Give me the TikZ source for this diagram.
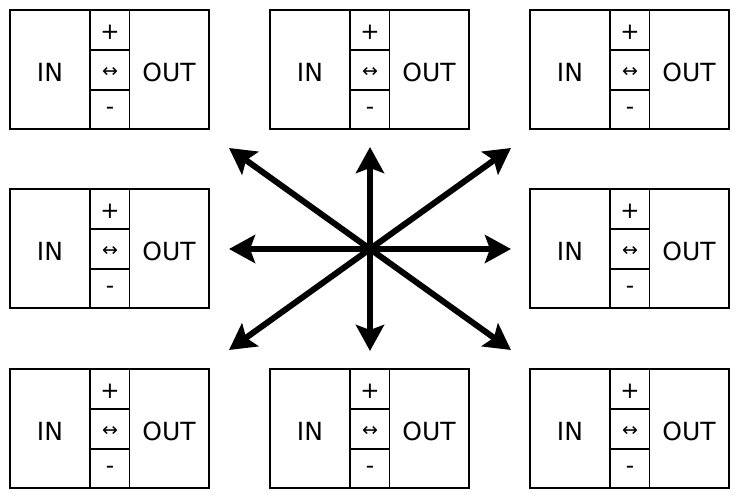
\documentclass[tikz,border=0pt]{standalone}
\usepackage{fontspec}
\setmainfont{DejaVu Sans}
\usetikzlibrary{arrows.meta}
\tikzset{
  box/.style={draw, line width=1.5pt, minimum width=199pt, minimum height=119pt, inner sep=0pt, outer sep=0pt},
  divline/.style={line width=1.5pt},
  lbl/.style={font=\fontsize{25}{29}\selectfont, inner sep=0pt},
  sym/.style={font=\fontsize{23}{27}\selectfont, inner sep=0pt},
  bigarrow/.style={line width=6pt, -{Stealth[length=26pt,width=28pt,inset=5pt]}}
}
\begin{document}
\begin{tikzpicture}[x=1pt,y=-1pt]
\useasboundingbox (0,0) rectangle (740,500);
\foreach \n/\x/\y in {a/10/10, b/270/10, c/530/10, d/10/189, e/530/189, f/10/369, g/270/369, h/530/369} {
  \node[box] (\n) at (\x+99.5,\y+59.5) {};
  \draw[divline] ([xshift=80pt]\n.north west) -- ([xshift=80pt]\n.south west);
  \draw[divline] ([xshift=119.5pt]\n.north west) -- ([xshift=119.5pt]\n.south west);
  \draw[divline] ([xshift=80pt,yshift=-40pt]\n.north west) -- ([xshift=119.5pt,yshift=-40pt]\n.north west);
  \draw[divline] ([xshift=80pt,yshift=-80pt]\n.north west) -- ([xshift=119.5pt,yshift=-80pt]\n.north west);
  \node[lbl] (\n-in) at ([xshift=40pt,yshift=-2.5pt]\n.west) {IN};
  \node[lbl] (\n-out) at ([xshift=-40pt,yshift=-2.5pt]\n.east) {OUT};
  \node[sym] (\n-plus) at ([xshift=100pt,yshift=-22pt]\n.north west) {+};
  \node[sym] (\n-both) at ([xshift=100pt,yshift=-62pt]\n.north west) {\fontsize{19}{22}\selectfont ↔};
  \node[sym] (\n-minus) at ([xshift=100pt,yshift=-101pt]\n.north west) {-};
}
\coordinate (ctr) at (370,249);
\coordinate (pN) at (370,147);
\coordinate (pS) at (370,351);
\coordinate (pW) at (229,249);
\coordinate (pE) at (511,249);
\coordinate (pNW) at (229,148);
\coordinate (pNE) at (511,148);
\coordinate (pSW) at (229,350);
\coordinate (pSE) at (511,350);
\foreach \t in {pN,pS,pW,pE,pNW,pNE,pSW,pSE} {
  \draw[bigarrow] (ctr) -- (\t);
}
\end{tikzpicture}
\end{document}
